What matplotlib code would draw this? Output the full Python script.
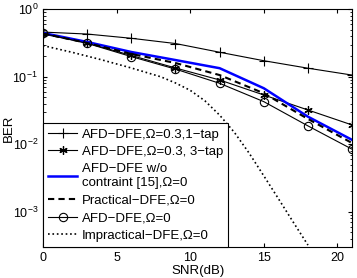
import matplotlib
matplotlib.use('Agg')
import matplotlib.pyplot as plt

plt.rcParams['font.family'] = ['Liberation Sans', 'DejaVu Sans']
plt.rcParams['mathtext.fontset'] = 'custom'
plt.rcParams['mathtext.rm'] = 'Liberation Sans'

# SNR points (dB)
snr = [0, 3, 6, 9, 12, 15, 18, 21]

# BER
ber_1tap = [0.46, 0.43, 0.372, 0.311, 0.231, 0.173, 0.134, 0.106]
ber_3tap = [0.43, 0.317, 0.207, 0.135, 0.0897, 0.0537, 0.0322, 0.0193]
ber_noconst = [0.446, 0.328, 0.233, 0.177, 0.134, 0.0676, 0.0256, 0.0116]
ber_practical = [0.438, 0.317, 0.218, 0.160, 0.106, 0.057, 0.0237, 0.0104]
ber_afd = [0.44, 0.313, 0.199, 0.130, 0.080, 0.0428, 0.0187, 0.00843]

snr_imp = [0, 2, 4, 6, 8, 9, 10, 11, 12, 13, 14, 15, 16, 17, 18]
ber_imp = [0.29, 0.23, 0.178, 0.135, 0.10, 0.081, 0.063, 0.044, 0.027,
           0.015, 0.0074, 0.0034, 0.00155, 0.0007, 0.00032]

labels = ['AFD\u2212DFE,\u03a9=0.3,1\u2212tap',
          'AFD\u2212DFE,\u03a9=0.3, 3\u2212tap',
          'AFD\u2212DFE w/o\ncontraint [15],\u03a9=0',
          'Practical\u2212DFE,\u03a9=0',
          'AFD\u2212DFE,\u03a9=0',
          'Impractical\u2212DFE,\u03a9=0']

fig = plt.figure(figsize=(3.57, 2.78), dpi=100)
ax = fig.add_axes([0.1204, 0.1115, 0.866, 0.855])

ax.semilogy(snr, ber_1tap, 'k-', marker='+', ms=7, mew=0.8, lw=0.8, label=labels[0])
ax.semilogy(snr, ber_3tap, 'k-', marker=(6, 2, 0), ms=6, mew=0.9, lw=0.8, label=labels[1])
ax.semilogy(snr, ber_noconst, '-', color='#0000ff', lw=1.8, label=labels[2])
ax.semilogy(snr, ber_practical, 'k--', lw=1.5, dashes=(3, 2), label=labels[3])
ax.semilogy(snr, ber_afd, 'k-', marker='o', ms=6, mfc='none', mew=0.8, lw=0.8, label=labels[4])
ax.semilogy(snr_imp, ber_imp, 'k:', lw=1.2, label=labels[5])

ax.set_xlim(0, 21)
ax.set_ylim(3e-4, 1)
ax.set_xticks([0, 5, 10, 15, 20])
ax.tick_params(which='both', direction='in', top=True, right=True, labelsize=9)
ax.tick_params(which='major', length=3)
ax.tick_params(which='minor', length=1.8)
for s in ax.spines.values():
    s.set_linewidth(0.8)

ax.set_xlabel('SNR(dB)', fontsize=9.5, labelpad=1)
ax.set_ylabel('BER', fontsize=9.5)
ax.yaxis.set_label_coords(-0.09, 0.5)

leg = ax.legend(loc='lower left', bbox_to_anchor=(0, 0), borderaxespad=0,
                fontsize=9.5, fancybox=False, framealpha=1, edgecolor='k',
                handlelength=2.2, handletextpad=0.35, labelspacing=0.4,
                borderpad=0.4)
leg.get_frame().set_linewidth(0.8)

fig.savefig('out.png', dpi=100)
